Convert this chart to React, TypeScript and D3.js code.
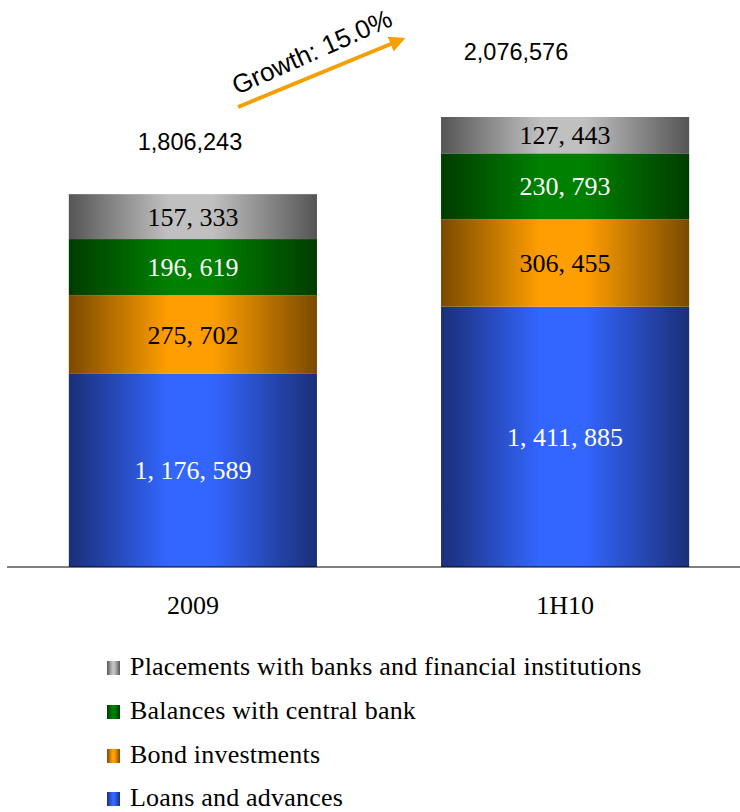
import React from "react";
import * as d3 from "d3";

const categories = ["2009", "1H10"];
const seriesNames = [
  "Loans and advances",
  "Bond investments",
  "Balances with central bank",
  "Placements with banks and financial institutions",
];
const loans = [1176589, 1411885];
const bonds = [275702, 306455];
const central = [196619, 230793];
const placements = [157333, 127443];
const totals = [1806243, 2076576];
const growthLabel = "Growth: 15.0%";

const palette = [
  { edge: "#1b2f78", mid: "#3366ff", text: "#ffffff" },
  { edge: "#7a4a00", mid: "#ff9e00", text: "#000000" },
  { edge: "#003c00", mid: "#008000", text: "#ffffff" },
  { edge: "#555555", mid: "#c0c0c0", text: "#000000" },
];

const fmt = (v: number) => d3.format(",")(v).replace(/,/g, ", ");

export default function App() {
  const W = 740, H = 812;
  const baseY = 567;
  const values = [loans, bonds, central, placements];
  const rows = categories.map((c, i) => ({
    cat: c,
    s0: loans[i], s1: bonds[i], s2: central[i], s3: placements[i],
  }));
  const stack = d3.stack<any>().keys(["s0", "s1", "s2", "s3"])(rows);
  const x = d3.scaleBand().domain(categories).range([13, 745]).paddingInner(1 / 3).paddingOuter(0.15);
  const y = d3.scaleLinear().domain([500000, 2076576]).range([baseY, 117]);
  const yc = (v: number) => Math.min(baseY, y(v));
  const legendY = [675, 719, 763, 806];
  const legendOrder = [3, 2, 1, 0];
  const totalPos = [
    { cx: 190, by: 150 },
    { cx: 516, by: 60 },
  ];

  return (
    <svg width={W} height={H} style={{ position: "absolute", left: 0, top: 0 }}>
      <defs>
        {palette.map((p, i) => (
          <linearGradient key={i} id={`g${i}`} x1="0" x2="1" y1="0" y2="0">
            <stop offset="0%" stopColor={p.edge} />
            <stop offset="40%" stopColor={p.mid} />
            <stop offset="58%" stopColor={p.mid} />
            <stop offset="100%" stopColor={p.edge} />
          </linearGradient>
        ))}
        <marker id="arrow" viewBox="0 0 10 10" refX="5" refY="5" markerWidth="4" markerHeight="4" orient="auto">
          <path d="M0,0 L10,5 L0,10 z" fill="#f5a000" />
        </marker>
      </defs>
      {stack.map((layer, si) =>
        layer.map((d, ci) => {
          const x0 = x(categories[ci])!;
          const bw = x.bandwidth();
          const top = yc(d[1]);
          const bot = yc(d[0]);
          return (
            <g key={`${si}-${ci}`}>
              <rect x={x0} y={top} width={bw} height={bot - top} fill={`url(#g${si})`} />
              <text
                x={x0 + bw / 2}
                y={(top + bot) / 2 + 9}
                textAnchor="middle"
                fontFamily="'Liberation Serif', 'DejaVu Serif', serif"
                fontSize={26}
                fill={palette[si].text}
              >
                {fmt(values[si][ci])}
              </text>
            </g>
          );
        })
      )}
      <line x1={7} x2={740} y1={baseY} y2={baseY} stroke="#000" strokeWidth={1} />
      {categories.map((c) => (
        <text
          key={c}
          x={x(c)! + x.bandwidth() / 2}
          y={614}
          textAnchor="middle"
          fontFamily="'Liberation Serif', serif"
          fontSize={26}
          fill="#000"
        >
          {c}
        </text>
      ))}
      {categories.map((c, i) => (
        <text
          key={`t${c}`}
          x={totalPos[i].cx}
          y={totalPos[i].by}
          textAnchor="middle"
          fontFamily="'Liberation Sans', Arial, sans-serif"
          fontSize={23.5}
          fill="#000"
        >
          {d3.format(",")(totals[i])}
        </text>
      ))}
      <line x1={238} y1={107} x2={398} y2={41} stroke="#f5a000" strokeWidth={4} markerEnd="url(#arrow)" />
      <text
        transform="translate(237,95) rotate(-24)"
        fontFamily="'Liberation Sans', Arial, sans-serif"
        fontSize={26}
        fill="#000"
      >
        {growthLabel}
      </text>
      {legendOrder.map((si, k) => (
        <g key={si}>
          <rect x={107} y={legendY[k] - 14} width={13} height={14} fill={`url(#g${si})`} />
          <text
            x={130}
            y={legendY[k]}
            fontFamily="'Liberation Serif', serif"
            fontSize={26}
            letterSpacing={0.2}
            fill="#000"
          >
            {seriesNames[si]}
          </text>
        </g>
      ))}
    </svg>
  );
}
